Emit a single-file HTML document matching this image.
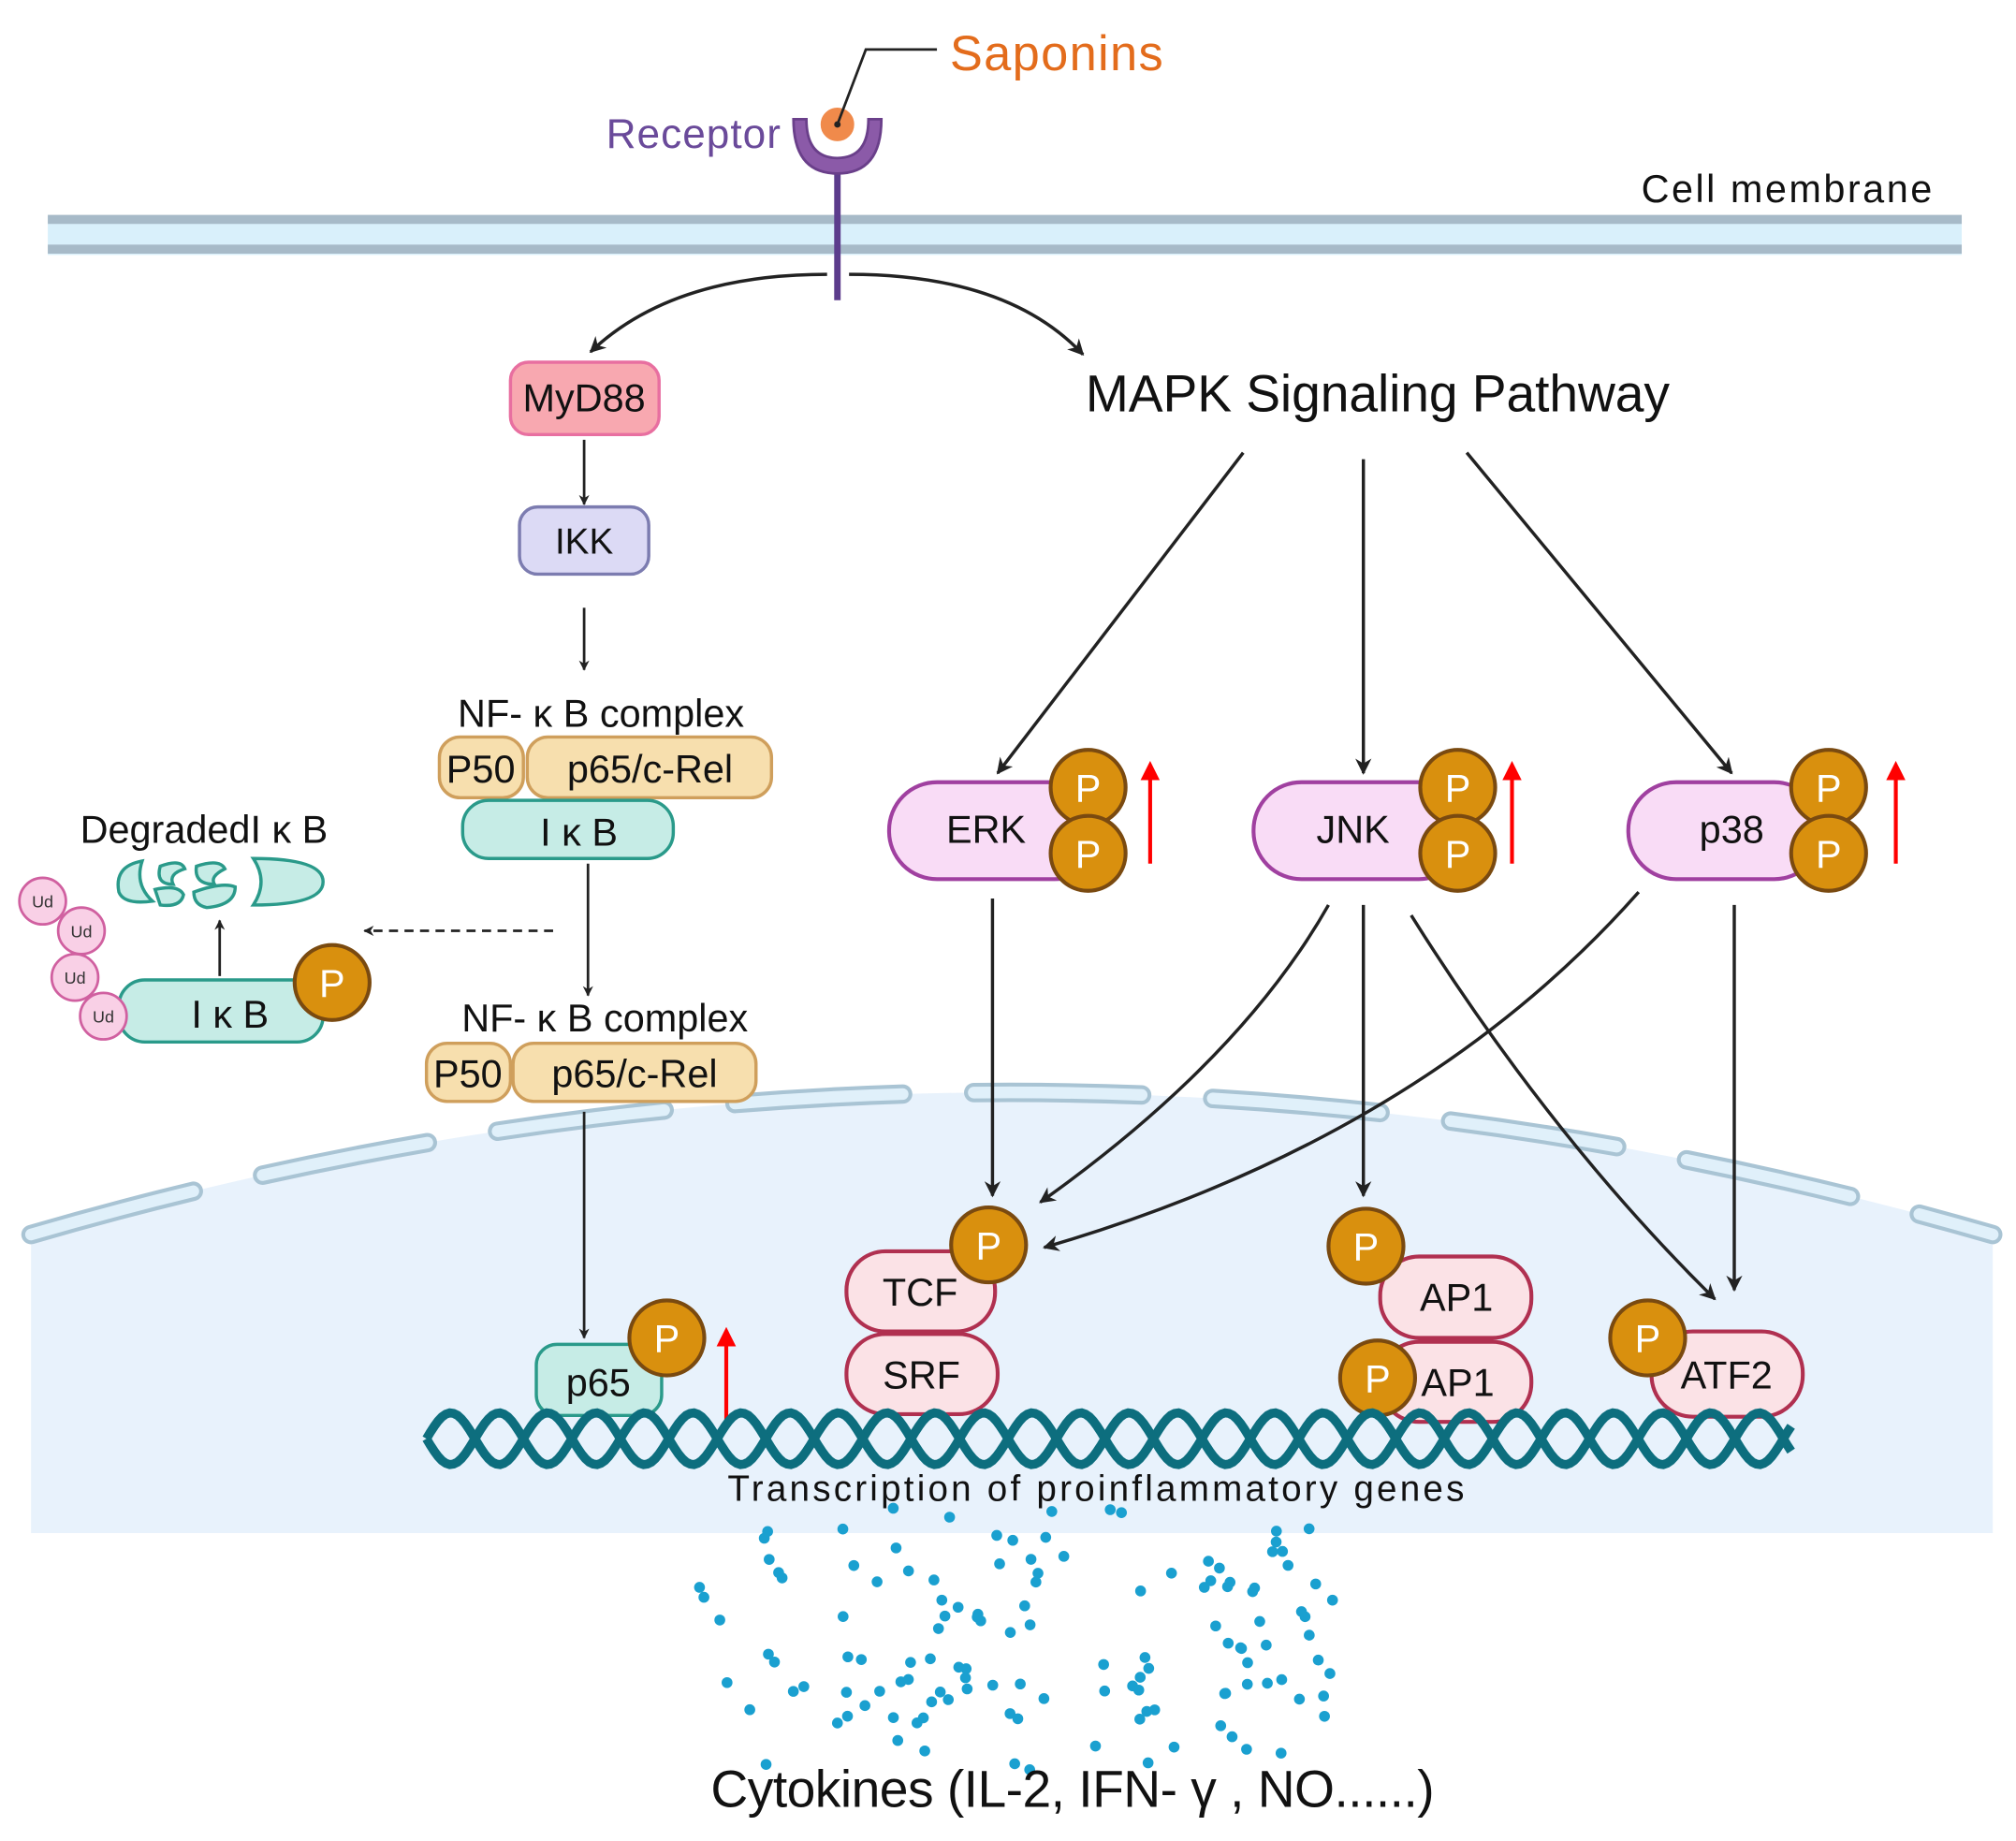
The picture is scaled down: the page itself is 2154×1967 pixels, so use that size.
<!DOCTYPE html>
<html><head><meta charset="utf-8"><style>
html,body{margin:0;padding:0;background:#fff;}
svg{display:block;}
text{font-family:"Liberation Sans Narrow","Liberation Sans",sans-serif;}
</style></head><body>
<svg id="s" width="2154" height="1967" viewBox="0 0 1560 1424" xmlns="http://www.w3.org/2000/svg">
<defs>
<marker id="a" viewBox="0 0 10 10" refX="9" refY="5" markerWidth="5" markerHeight="5" orient="auto-start-reverse"><path d="M0,0 L10,5 L0,10 L3,5 z" fill="#222"/></marker>
<marker id="as" viewBox="0 0 10 10" refX="9" refY="5" markerWidth="4" markerHeight="4" orient="auto"><path d="M0,0 L10,5 L0,10 L3,5 z" fill="#222"/></marker>
<marker id="r" viewBox="0 0 10 10" refX="5" refY="5" markerWidth="5" markerHeight="5" orient="auto"><path d="M0,0 L10,5 L0,10 z" fill="#f00"/></marker>
</defs>
<rect width="1560" height="1424" fill="#fff"/>
<!-- nucleus -->
<path d="M24,955 Q780,735 1542,955 L1542,1186 L24,1186 Z" fill="#e8f2fc"/>
<path d="M24,955 Q780,735 1542,955" fill="none" stroke="#a9c4d4" stroke-width="15" stroke-dasharray="130,55" stroke-linecap="round"/>
<path d="M24,955 Q780,735 1542,955" fill="none" stroke="#e0f0fa" stroke-width="9" stroke-dasharray="130,55" stroke-linecap="round"/>
<!-- membrane -->
<rect x="37" y="167" width="1481" height="30" fill="#d9f0fb"/>
<rect x="37" y="166" width="1481" height="7" fill="#a7bac8"/>
<rect x="37" y="189" width="1481" height="7" fill="#a7bac8"/>
<text x="1270" y="156" font-size="30" fill="#111" textLength="225">Cell membrane</text>
<!-- receptor -->
<line x1="648" y1="128" x2="648" y2="232" stroke="#5c3c8c" stroke-width="5"/>
<path d="M614,92 Q614,134 648,134 Q682,134 682,92 L672,92 Q672,122 648,122 Q624,122 624,92 Z" fill="#8b5aa8" stroke="#6a3f8a" stroke-width="2"/>
<circle cx="648" cy="96" r="14" fill="#f08a4b" stroke="#fff" stroke-width="2"/>
<circle cx="648" cy="96" r="2.5" fill="#222"/>
<polyline points="648,96 670,38 725,38" fill="none" stroke="#222" stroke-width="2"/>
<text x="735" y="54" font-size="38" fill="#e36c1c" textLength="165">Saponins</text>
<text x="469" y="114" font-size="32" fill="#6a4a9a" textLength="135">Receptor</text>
<!-- curved arrows -->
<path d="M640,212 Q520,212 457,272" fill="none" stroke="#222" stroke-width="2.5" marker-end="url(#a)"/>
<path d="M657,212 Q780,212 838,274" fill="none" stroke="#222" stroke-width="2.5" marker-end="url(#a)"/>
<!-- NF-kB branch -->
<rect x="395" y="280" width="115" height="56" rx="14" fill="#f8a8b0" stroke="#e86fa0" stroke-width="2.5"/>
<text x="452" y="318" font-size="30" text-anchor="middle" fill="#111">MyD88</text>
<line x1="452" y1="340" x2="452" y2="390" stroke="#222" stroke-width="2" marker-end="url(#as)"/>
<rect x="402" y="392" width="100" height="52" rx="14" fill="#dcdaf5" stroke="#7c7cb0" stroke-width="2.5"/>
<text x="452" y="428" font-size="28" text-anchor="middle" fill="#111">IKK</text>
<line x1="452" y1="470" x2="452" y2="518" stroke="#222" stroke-width="2" marker-end="url(#as)"/>
<text x="465" y="562" font-size="30" text-anchor="middle" fill="#111">NF- κ B complex</text>
<rect x="340" y="570" width="65" height="47" rx="16" fill="#f7dfae" stroke="#cf9f5c" stroke-width="2.5"/>
<text x="372" y="605" font-size="30" text-anchor="middle" fill="#111">P50</text>
<rect x="408" y="570" width="189" height="47" rx="16" fill="#f7dfae" stroke="#cf9f5c" stroke-width="2.5"/>
<text x="503" y="605" font-size="30" text-anchor="middle" fill="#111">p65/c-Rel</text>
<rect x="358" y="619" width="163" height="45" rx="20" fill="#c6ece6" stroke="#2a9a8a" stroke-width="2.5"/>
<text x="448" y="654" font-size="30" text-anchor="middle" fill="#111">I κ B</text>
<line x1="455" y1="668" x2="455" y2="770" stroke="#222" stroke-width="2" marker-end="url(#as)"/>
<line x1="428" y1="720" x2="282" y2="720" stroke="#222" stroke-width="2" stroke-dasharray="7,5" marker-end="url(#as)"/>
<!-- degraded -->
<text x="62" y="652" font-size="30" fill="#111">DegradedI κ B</text>
<g fill="#c6ece6" stroke="#2a9a8a" stroke-width="2.5">
<path d="M110,666 Q88,670 92,690 Q96,700 118,697 Q104,684 110,666 Z"/>
<path d="M124,670 Q140,664 143,672 Q130,676 134,684 Q120,684 124,670 Z"/>
<path d="M120,688 Q138,684 142,692 Q140,702 124,700 Z"/>
<path d="M152,670 Q170,664 174,672 Q162,678 166,684 Q150,684 152,670 Z"/>
<path d="M150,690 Q172,682 182,686 Q182,700 160,702 Q150,700 150,690 Z"/>
<path d="M196,664 Q250,664 250,682 Q250,700 196,700 Q208,682 196,664 Z"/>
</g>
<line x1="170" y1="755" x2="170" y2="712" stroke="#222" stroke-width="2" marker-end="url(#as)"/>
<rect x="92" y="758" width="158" height="48" rx="20" fill="#c6ece6" stroke="#2a9a8a" stroke-width="2.5"/>
<text x="178" y="795" font-size="30" text-anchor="middle" fill="#111">I κ B</text>
<g fill="#f9d0e6" stroke="#d060a0" stroke-width="2">
<circle cx="33" cy="697" r="18"/><circle cx="63" cy="720" r="18"/><circle cx="58" cy="756" r="18"/><circle cx="80" cy="786" r="18"/>
</g>
<g font-size="13" text-anchor="middle" fill="#333">
<text x="33" y="702">Ud</text><text x="63" y="725">Ud</text><text x="58" y="761">Ud</text><text x="80" y="791">Ud</text>
</g>
<text x="468" y="798" font-size="30" text-anchor="middle" fill="#111">NF- κ B complex</text>
<rect x="330" y="807" width="65" height="45" rx="16" fill="#f7dfae" stroke="#cf9f5c" stroke-width="2.5"/>
<text x="362" y="841" font-size="30" text-anchor="middle" fill="#111">P50</text>
<rect x="397" y="807" width="188" height="45" rx="16" fill="#f7dfae" stroke="#cf9f5c" stroke-width="2.5"/>
<text x="491" y="841" font-size="30" text-anchor="middle" fill="#111">p65/c-Rel</text>
<line x1="452" y1="860" x2="452" y2="1035" stroke="#222" stroke-width="2" marker-end="url(#as)"/>
<!-- MAPK -->
<text x="840" y="318" font-size="40" fill="#111" textLength="452">MAPK Signaling Pathway</text>
<g stroke="#222" stroke-width="2.5" fill="none" marker-end="url(#a)">
<line x1="962" y1="350" x2="772" y2="598"/>
<line x1="1055" y1="355" x2="1055" y2="598"/>
<line x1="1135" y1="350" x2="1340" y2="598"/>
<line x1="768" y1="695" x2="768" y2="925"/>
<path d="M1028,700 Q960,820 805,930"/>
<line x1="1055" y1="700" x2="1055" y2="925"/>
<path d="M1092,708 Q1200,880 1327,1005"/>
<path d="M1268,690 Q1100,880 808,965"/>
<line x1="1342" y1="700" x2="1342" y2="998"/>
</g>
<g fill="#f9dcf6" stroke="#a040a0" stroke-width="3">
<rect x="688" y="605" width="165" height="75" rx="37"/>
<rect x="970" y="605" width="165" height="75" rx="37"/>
<rect x="1260" y="605" width="150" height="75" rx="37"/>
</g>
<g font-size="30" text-anchor="middle" fill="#111">
<text x="763" y="652">ERK</text><text x="1047" y="652">JNK</text><text x="1340" y="652">p38</text>
</g>
<!-- TFs -->
<g fill="#fbe2e6" stroke="#b03050" stroke-width="3">
<rect x="655" y="968" width="115" height="62" rx="30"/>
<rect x="655" y="1032" width="117" height="62" rx="30"/>
<rect x="1068" y="972" width="117" height="63" rx="30"/>
<rect x="1068" y="1038" width="117" height="62" rx="30"/>
<rect x="1278" y="1030" width="117" height="66" rx="32"/>
</g>
<g font-size="30" text-anchor="middle" fill="#111">
<text x="712" y="1010">TCF</text><text x="713" y="1074">SRF</text>
<text x="1127" y="1014">AP1</text><text x="1128" y="1080">AP1</text><text x="1336" y="1074">ATF2</text>
</g>
<rect x="415" y="1040" width="97" height="55" rx="16" fill="#c6ece6" stroke="#2a9a8a" stroke-width="2.5"/>
<text x="463" y="1080" font-size="30" text-anchor="middle" fill="#111">p65</text>
<!-- P circles -->
<g id="ps" fill="#d9900e" stroke="#7a4a10" stroke-width="3"></g>
<!-- red arrows -->
<g stroke="#f00" stroke-width="3" marker-end="url(#r)">
<line x1="890" y1="668" x2="890" y2="596"/>
<line x1="1170" y1="668" x2="1170" y2="596"/>
<line x1="1467" y1="668" x2="1467" y2="596"/>
<line x1="562" y1="1105" x2="562" y2="1034"/>
</g>
<!-- DNA -->
<path id="d1" fill="none" stroke="#0d6e7e" stroke-width="7"/>
<path id="d2" fill="none" stroke="#0d6e7e" stroke-width="7"/>
<text x="848" y="1161" font-size="28" text-anchor="middle" fill="#111" textLength="570">Transcription of proinflammatory genes</text>
<g id="dots" fill="#1aa0d0"></g>
<text x="830" y="1398" font-size="40" text-anchor="middle" fill="#111" textLength="560">Cytokines (IL-2, IFN- γ , NO......)</text>
</svg>
<script>
var NS="http://www.w3.org/2000/svg";
var ps=[[842,609],[842,660],[1128,609],[1128,660],[1415,609],[1415,660],[257,760],[765,963],[1057,964],[1066,1066],[1275,1035],[516,1035]];
var g=document.getElementById("ps");
ps.forEach(function(p){var c=document.createElementNS(NS,"circle");c.setAttribute("cx",p[0]);c.setAttribute("cy",p[1]);c.setAttribute("r",29);g.appendChild(c);
var t=document.createElementNS(NS,"text");t.setAttribute("x",p[0]);t.setAttribute("y",p[1]+11);t.setAttribute("font-size","30");t.setAttribute("text-anchor","middle");t.setAttribute("fill","#fff");t.setAttribute("stroke","none");t.textContent="P";g.appendChild(t);});
var a="",b="",per=75,A=20,cy=1113;
for(var x=330;x<=1386;x+=3){var y=cy+A*Math.sin((x-330)/per*2*Math.PI);var y2=cy-A*Math.sin((x-330)/per*2*Math.PI);a+=(x==330?"M":"L")+x+","+y.toFixed(1);b+=(x==330?"M":"L")+x+","+y2.toFixed(1);}
document.getElementById("d1").setAttribute("d",a);document.getElementById("d2").setAttribute("d",b);
var s=12345;function rnd(){s=(s*1103515245+12345)%2147483648;return s/2147483648;}
var dg=document.getElementById("dots");
for(var i=0;i<130;i++){var yy=1165+rnd()*205;var t=(yy-1165)/205;var x0=520+t*60,x1=1050-t*30;var xx=x0+rnd()*(x1-x0);
var c=document.createElementNS(NS,"circle");c.setAttribute("cx",xx.toFixed(1));c.setAttribute("cy",yy.toFixed(1));c.setAttribute("r",4.2);dg.appendChild(c);}
</script>
</body></html>
